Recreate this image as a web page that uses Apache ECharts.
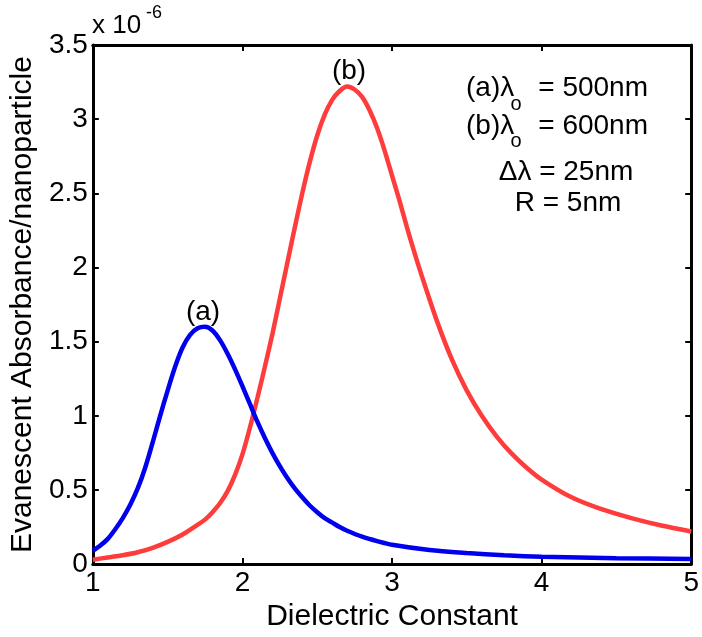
<!DOCTYPE html>
<html>
<head>
<meta charset="utf-8">
<script src="https://cdn.jsdelivr.net/npm/echarts@6/dist/echarts.min.js"></script>
<style>html,body{margin:0;padding:0;background:#fff}#c{width:702px;height:637px}</style>
</head>
<body>
<div id="c"></div>
<script>
// Curve (a): lambda0 = 500 nm
const aX = [1.00,1.05,1.10,1.15,1.20,1.25,1.30,1.35,1.40,1.45,1.50,1.55,1.60,1.65,1.70,1.75,1.80,1.85,1.90,1.95,2.00,2.05,2.10,2.15,2.20,2.25,2.30,2.35,2.40,2.45,2.50,2.55,2.60,2.65,2.70,2.80,2.90,3.00,3.25,3.50,3.75,4.00,4.50,5.00];
const aY = [0.09,0.125,0.17,0.235,0.31,0.40,0.51,0.65,0.82,1.00,1.17,1.33,1.46,1.545,1.59,1.60,1.575,1.51,1.42,1.315,1.20,1.08,0.96,0.85,0.75,0.66,0.58,0.51,0.45,0.395,0.35,0.31,0.28,0.25,0.225,0.185,0.155,0.13,0.095,0.075,0.06,0.05,0.04,0.035];
// Curve (b): lambda0 = 600 nm
const bX = [1.00,1.10,1.20,1.30,1.40,1.50,1.60,1.70,1.75,1.80,1.85,1.90,1.95,2.00,2.05,2.10,2.15,2.20,2.25,2.30,2.35,2.40,2.45,2.50,2.55,2.60,2.65,2.70,2.75,2.80,2.85,2.90,2.95,3.00,3.05,3.10,3.15,3.20,3.30,3.40,3.50,3.60,3.70,3.80,3.90,4.00,4.20,4.40,4.60,4.80,5.00];
const bY = [0.03,0.045,0.06,0.08,0.11,0.15,0.20,0.265,0.30,0.35,0.41,0.49,0.60,0.74,0.92,1.12,1.33,1.55,1.79,2.03,2.27,2.50,2.71,2.89,3.03,3.13,3.19,3.22,3.20,3.15,3.06,2.94,2.79,2.62,2.45,2.27,2.10,1.94,1.64,1.38,1.17,1.00,0.86,0.745,0.65,0.57,0.45,0.37,0.31,0.26,0.22];
const xTicks = [1,2,3,4,5];
const yTicks = [0,0.5,1,1.5,2,2.5,3,3.5];

const F = 'Liberation Sans, Arial, Helvetica, sans-serif';
const FS = 28;
const chart = echarts.init(document.getElementById('c'));
const zip = (xs, ys) => xs.map((x, i) => [x, ys[i]]);
const axisCommon = {
  type: 'value',
  axisLine: { show: true, onZero: false, lineStyle: { color: '#000', width: 3 } },
  axisTick: { show: true, inside: true, length: 6, lineStyle: { color: '#000', width: 2 } },
  splitLine: { show: false }
};
chart.setOption({
  animation: false,
  backgroundColor: '#fff',
  grid: { left: 91, right: 8, top: 45, bottom: 69 },
  xAxis: [
    Object.assign({}, axisCommon, {
      min: xTicks[0], max: xTicks[xTicks.length - 1], interval: 1, position: 'bottom',
      axisLabel: { color: '#000', fontSize: FS, fontFamily: F, margin: 5 },
      name: 'Dielectric Constant', nameLocation: 'middle', nameGap: 22,
      nameTextStyle: { color: '#000', fontSize: 30, fontFamily: F }
    }),
    Object.assign({}, axisCommon, {
      min: xTicks[0], max: xTicks[xTicks.length - 1], interval: 1, position: 'top',
      axisLabel: { show: false }
    })
  ],
  yAxis: [
    Object.assign({}, axisCommon, {
      min: yTicks[0], max: yTicks[yTicks.length - 1], interval: 0.5, position: 'left',
      axisLabel: { color: '#000', fontSize: FS, fontFamily: F, margin: 5 },
      name: 'Evanescent Absorbance/nanoparticle', nameLocation: 'middle', nameGap: 47,
      nameTextStyle: { color: '#000', fontSize: 30, fontFamily: F }
    }),
    Object.assign({}, axisCommon, {
      min: yTicks[0], max: yTicks[yTicks.length - 1], interval: 0.5, position: 'right',
      axisLabel: { show: false }
    })
  ],
  series: [
    { type: 'line', data: zip(aX, aY), smooth: 0.3, showSymbol: false, lineStyle: { color: '#0000ee', width: 4.5 }, z: 3 },
    { type: 'line', data: zip(bX, bY), smooth: 0.3, showSymbol: false, lineStyle: { color: '#ff3c3c', width: 4.5 }, z: 2 }
  ],
  graphic: [
    { type: 'text', left: 92, top: 13, style: { text: 'x 10', font: '26px ' + F, fill: '#000' } },
    { type: 'text', left: 146, top: 4, style: { text: '-6', font: '18px ' + F, fill: '#000' } },
    { type: 'text', x: 203, y: 312, style: { text: '(a)', font: FS + 'px ' + F, fill: '#000', align: 'center', verticalAlign: 'middle' } },
    { type: 'text', x: 349, y: 71, style: { text: '(b)', font: FS + 'px ' + F, fill: '#000', align: 'center', verticalAlign: 'middle' } },
    { type: 'text', x: 466, y: 88, style: { text: '(a)λ', font: FS + 'px ' + F, fill: '#000', verticalAlign: 'middle' } },
    { type: 'text', x: 516, y: 104, style: { text: 'o', font: '20px ' + F, fill: '#000', align: 'center', verticalAlign: 'middle' } },
    { type: 'text', x: 648, y: 88, style: { text: '= 500nm', font: FS + 'px ' + F, fill: '#000', align: 'right', verticalAlign: 'middle' } },
    { type: 'text', x: 466, y: 126, style: { text: '(b)λ', font: FS + 'px ' + F, fill: '#000', verticalAlign: 'middle' } },
    { type: 'text', x: 516, y: 141, style: { text: 'o', font: '20px ' + F, fill: '#000', align: 'center', verticalAlign: 'middle' } },
    { type: 'text', x: 648, y: 126, style: { text: '= 600nm', font: FS + 'px ' + F, fill: '#000', align: 'right', verticalAlign: 'middle' } },
    { type: 'text', x: 566, y: 172, style: { text: 'Δλ = 25nm', font: FS + 'px ' + F, fill: '#000', align: 'center', verticalAlign: 'middle' } },
    { type: 'text', x: 568, y: 203, style: { text: 'R = 5nm', font: FS + 'px ' + F, fill: '#000', align: 'center', verticalAlign: 'middle' } }
  ]
});
</script>
</body>
</html>
